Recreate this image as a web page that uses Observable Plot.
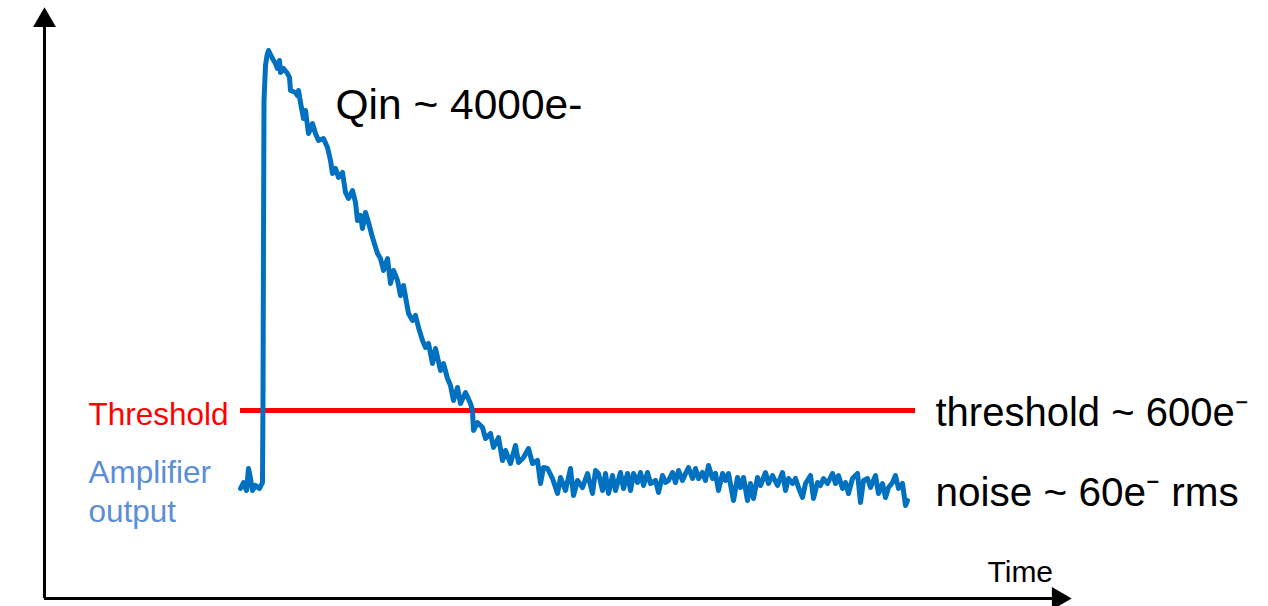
<!DOCTYPE html>
<html>
<head>
<meta charset="utf-8">
<script src="https://cdn.jsdelivr.net/npm/d3@7"></script>
<script src="https://cdn.jsdelivr.net/npm/@observablehq/plot@0.6"></script>
<style>
  html, body { margin: 0; padding: 0; background: #ffffff; }
  #chart svg { display: block; }
</style>
</head>
<body>
<div id="chart"></div>
<script>
// Time (arbitrary units from the origin) of each sample of the amplifier output
const traceTime = [
  196,199,202,204,206,208,211,215,218,
  218.5,219,219.5,221,222.5,
  224,228,231,233,235,236,239,243,245,246,251,253,254,256,259,261,264,268,271,274,279,283,286,
  288,291,294,298,301,304,308,311,313,316,318,321,324,328,333,336,339,343,346,349,353,356,359,364,368,371,374,378,381,384,388,391,396,399,403,406,409,413,416,421,426,428,429,433,438,441,446,449,454,458,461,466,471,474,479,484,488,493,496,499,503,508,513,516,521,526,529,533,538,543,548,551,
  554,558,561,564,568,571,576,579,583,586,589,593,596,599,603,606,611,614,618,621,624,628,631,634,638,641,644,648,651,654,658,661,664,668,671,674,678,681,684,689,693,696,699,703,706,709,713,
  716,721,724,728,733,738,741,744,748,751,754,758,761,766,769,773,776,779,783,788,791,794,798,801,804,808,813,816,819,823,826,831,834,838,841,844,848,851,854,858,861,863
];
// Amplifier output amplitude (arbitrary units above the time axis)
const traceValue = [
  110,116,108,130,120,108,113,110,116,
  200,358,498,533,543,
  548,540,535,530,538,526,530,525,521,508,506,503,508,496,480,488,465,475,465,458,460,451,438,
  425,430,421,426,406,400,408,396,378,383,370,386,376,361,345,340,328,340,315,328,318,303,313,285,278,283,271,258,251,255,235,250,228,235,220,213,198,211,195,206,195,188,168,176,171,160,165,151,161,138,148,135,153,136,141,150,135,138,115,131,130,120,105,121,108,130,103,118,111,125,105,128,
  125,108,125,105,123,108,126,110,125,108,125,116,126,113,126,115,118,106,123,116,118,126,116,128,118,125,131,120,130,120,126,118,133,120,125,108,125,118,125,98,121,111,121,98,115,100,121,
  113,126,115,123,113,126,108,120,115,120,111,101,115,123,100,116,113,120,115,125,115,123,110,116,105,120,125,96,118,120,111,123,105,115,101,111,116,123,110,115,93,98
];
// Threshold level and its extent in time
const thresholdLevel = 188;
const thresholdSpan = [196, 871];
// Axis extents (tips of the arrows)
const timeAxisEnd = 1026;
const valueAxisEnd = 590;

// Annotation texts
const bigLabels = ["Qin ~ 4000e-", "threshold ~ 600e\u207B", "noise ~ 60e\u207B rms"];
const bigLabelTime = [291, 891, 891];
const bigLabelValue = [493, 185, 105];
const bigLabelSize = [42.5, 40, 40.5];
const sideLabels = ["Threshold", "Amplifier", "output"];
const sideLabelTime = [44, 44, 44];
const sideLabelValue = [184, 126, 87];
const sideLabelColor = ["#ff0000", "#5b8ed6", "#5b8ed6"];
const axisLabel = ["Time"];
const axisLabelTime = [943];
const axisLabelValue = [26];

const trace = traceTime.map((t, i) => ({t, v: traceValue[i]}));
const big = bigLabels.map((s, i) => ({s, t: bigLabelTime[i], v: bigLabelValue[i], size: bigLabelSize[i]}));
const side = sideLabels.map((s, i) => ({s, t: sideLabelTime[i], v: sideLabelValue[i], c: sideLabelColor[i]}));
const axl = axisLabel.map((s, i) => ({s, t: axisLabelTime[i], v: axisLabelValue[i]}));

const font = "'Liberation Sans', Arial, sans-serif";

const chart = Plot.plot({
  width: 1268,
  height: 606,
  margin: 0,
  style: {background: "#ffffff", fontFamily: font, overflow: "visible"},
  x: {domain: [0, timeAxisEnd], range: [44, 1070], axis: null},
  y: {domain: [0, valueAxisEnd], range: [598, 8], axis: null},
  marks: [
    // axes
    Plot.ruleY([0], {x1: 0, x2: timeAxisEnd - 14, stroke: "#000", strokeWidth: 3}),
    Plot.ruleX([0], {y1: 0, y2: valueAxisEnd - 14, stroke: "#000", strokeWidth: 3}),
    Plot.dot([{t: 0, v: valueAxisEnd - 12}], {x: "t", y: "v", symbol: "triangle", r: 8.5, fill: "#000", stroke: "none"}),
    Plot.dot([{t: timeAxisEnd - 12, v: 0}], {x: "t", y: "v", symbol: "triangle", r: 8.5, fill: "#000", stroke: "none", rotate: 90}),
    // threshold
    Plot.ruleY([thresholdLevel], {x1: thresholdSpan[0], x2: thresholdSpan[1], stroke: "#ff0000", strokeWidth: 5}),
    // amplifier output
    Plot.line(trace, {x: "t", y: "v", stroke: "#0070c0", strokeWidth: 5, strokeLinejoin: "round", strokeLinecap: "round", curve: "linear"}),
    // labels
    ...big.map(d => Plot.text([d], {x: "t", y: "v", text: "s", textAnchor: "start", fontSize: d.size, fill: "#000"})),
    Plot.text(side, {x: "t", y: "v", text: "s", textAnchor: "start", fontSize: 31.5, fill: "c"}),
    Plot.text(axl, {x: "t", y: "v", text: "s", textAnchor: "start", fontSize: 30, fill: "#000"})
  ]
});
document.getElementById("chart").appendChild(chart);
</script>
</body>
</html>
